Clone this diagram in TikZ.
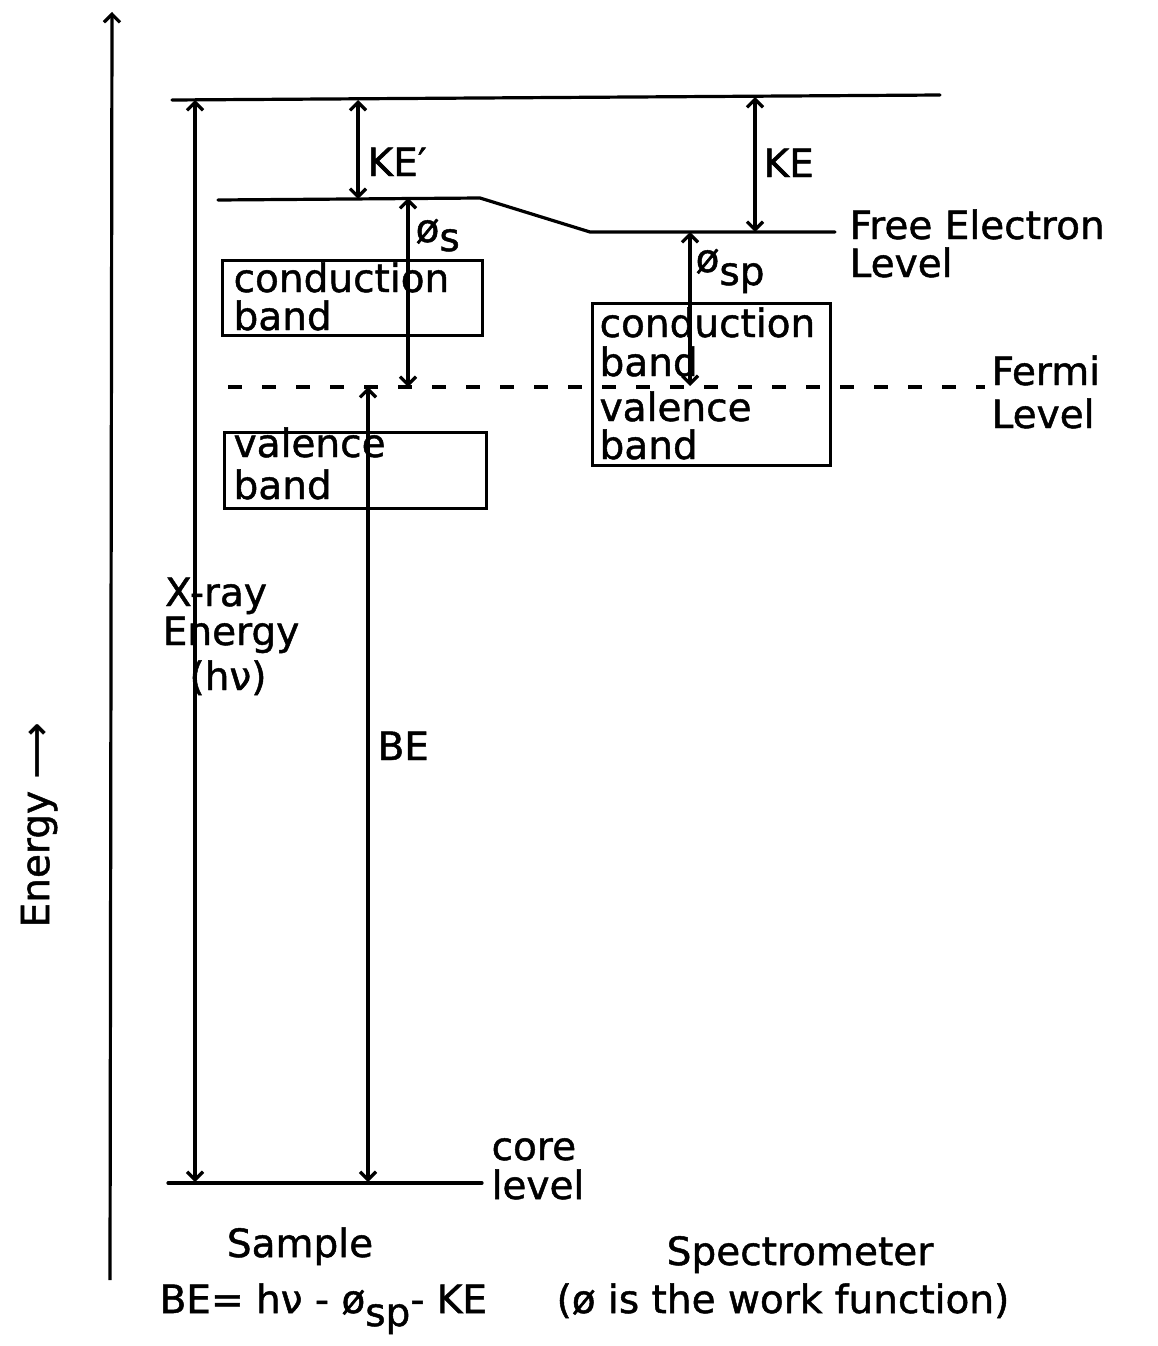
\documentclass[tikz,border=0pt]{standalone}
\usepackage{fontspec}
\setmainfont{DejaVu Sans}[FakeBold=1.2]
\usetikzlibrary{arrows.meta}
\begin{document}
\begin{tikzpicture}[x=1pt,y=-1pt, line width=3.2pt,
  dbl/.style={{Straight Barb[length=8pt,width=16pt]}-{Straight Barb[length=8pt,width=16pt]}},
  lbl/.style={font=\fontsize{39}{44}\selectfont, inner sep=0pt, text depth=0pt},
  bandbox/.style={draw, line width=3pt, inner sep=0pt},
  level/.style={line width=3.2pt, line cap=round}]
\useasboundingbox (0,0) rectangle (1157,1346);

% energy axis
\coordinate (axB) at (110,1280);
\coordinate (axT) at (112,12);
\draw[-{Straight Barb[length=8pt,width=16pt]}] (axB) -- (axT);
\node[lbl, rotate=90] (energy) at (35,825) {Energy ⟶};

% levels
\coordinate (topL) at (172,100);
\coordinate (topR) at (940,95);
\draw[level] (topL) -- (topR);
\coordinate (s1) at (218,200);
\coordinate (s2) at (480,198);
\coordinate (s3) at (590,232);
\coordinate (s4) at (835,232);
\draw[level] (s1) -- (s2) -- (s3) -- (s4);
\coordinate (fL) at (228,387);
\coordinate (fR) at (985,387);
\draw[line width=3.2pt, dash pattern=on 14pt off 20pt] (fL) -- (fR);
\coordinate (cL) at (168,1183);
\coordinate (cR) at (482,1183);
\draw[level] (cL) -- (cR);

% boxes
\node[bandbox, minimum width=260pt, minimum height=75pt] (cbS) at (352,297.5) {};
\node[bandbox, minimum width=262pt, minimum height=76pt] (vbS) at (355,470) {};
\node[bandbox, minimum width=238pt, minimum height=162pt] (bSp) at (711,384) {};

\node[lbl, anchor=base west] (t1) at (232,292) {conduction};
\node[lbl, anchor=base west] (t2) at (232,330) {band};
\node[lbl, anchor=base west] (t3) at (232,457) {valence};
\node[lbl, anchor=base west] (t4) at (232,499) {band};
\node[lbl, anchor=base west] (t5) at (598,337) {conduction};
\node[lbl, anchor=base west] (t6) at (598,376) {band};
\node[lbl, anchor=base west] (t7) at (598,421) {valence};
\node[lbl, anchor=base west] (t8) at (598,459) {band};

% arrows
\coordinate (keA) at (358,100);
\coordinate (keB) at (358,199);
\draw[dbl] (keA) -- (keB);
\coordinate (kA) at (755,97);
\coordinate (kB) at (755,232);
\draw[dbl] (kA) -- (kB);
\coordinate (psA) at (408,198);
\coordinate (psB) at (408,387);
\draw[dbl] (psA) -- (psB);
\coordinate (pspA) at (690,232);
\coordinate (pspB) at (690,386);
\draw[dbl] (pspA) -- (pspB);
\coordinate (xA) at (195,100);
\coordinate (xB) at (195,1182);
\draw[dbl] (xA) -- (xB);
\coordinate (bA) at (368,387);
\coordinate (bB) at (368,1182);
\draw[dbl] (bA) -- (bB);

% labels
\node[lbl, anchor=base west] (lke1) at (366,176) {KE′};
\node[lbl, anchor=base west] (lke) at (762,177) {KE};
\node[lbl, anchor=base west] (lps) at (414,242) {ø\raisebox{-9pt}{s}};
\node[lbl, anchor=base west] (lpsp) at (694,272) {ø\raisebox{-13pt}{sp}};
\node[lbl, anchor=base west] (lfe1) at (848,239) {Free Electron};
\node[lbl, anchor=base west] (lfe2) at (848,277) {Level};
\node[lbl, anchor=base west] (lfm1) at (990,385) {Fermi};
\node[lbl, anchor=base west] (lfm2) at (990,428) {Level};
\node[lbl, anchor=base] (lx1) at (216,606) {X-ray};
\node[lbl, anchor=base] (lx2) at (231,645) {Energy};
\node[lbl, anchor=base] (lx3) at (228,690) {(hν)};
\node[lbl, anchor=base west] (lbe) at (376,760) {BE};
\node[lbl, anchor=base west] (lc1) at (490,1160) {core};
\node[lbl, anchor=base west] (lc2) at (490,1199) {level};
\node[lbl, anchor=base] (lsam) at (300,1257) {Sample};
\node[lbl, anchor=base] (lspe) at (800,1265) {Spectrometer};
\node[lbl, anchor=base west] (leq) at (158,1313) {BE= hν - ø\raisebox{-13pt}{sp}- KE};
\node[lbl, anchor=base west] (lwf) at (555,1313) {(ø is the work function)};
\end{tikzpicture}
\end{document}
